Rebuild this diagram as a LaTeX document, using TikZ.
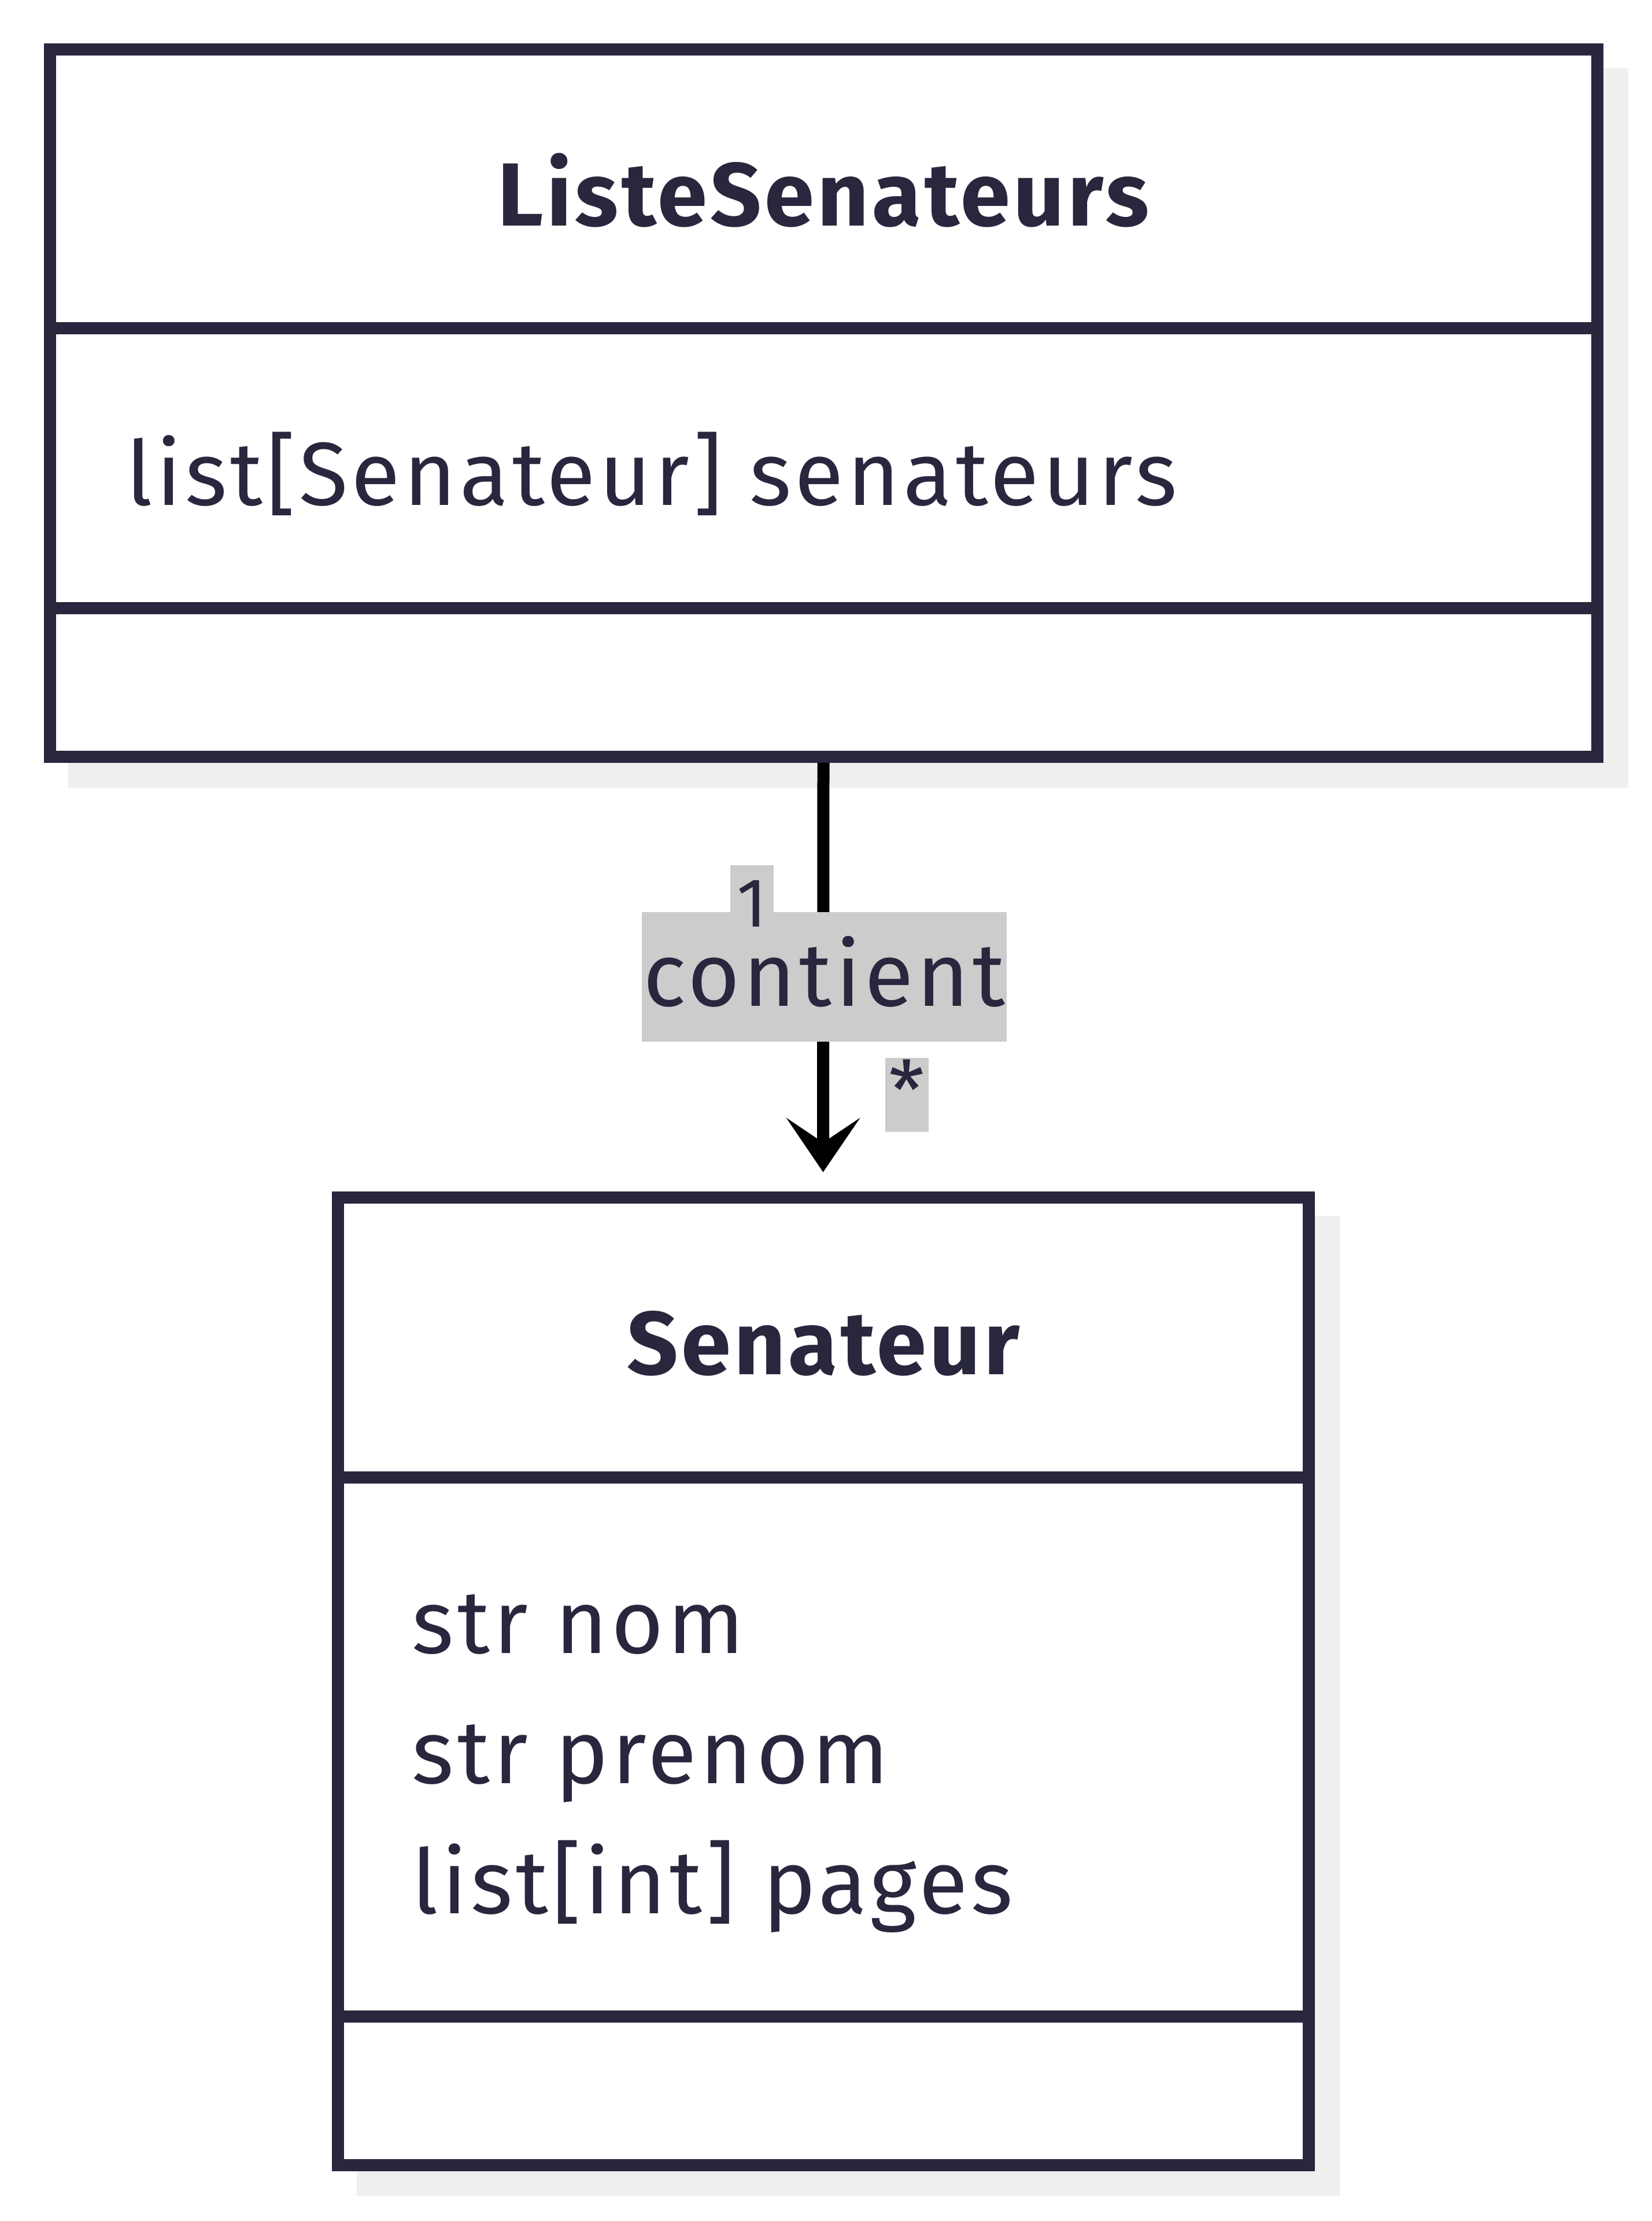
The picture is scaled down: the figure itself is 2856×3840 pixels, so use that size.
\documentclass[tikz,border=0pt]{standalone}
\usepackage{fontspec}
\setmainfont{Fira Sans}[LetterSpace=4,BoldFeatures={LetterSpace=3.5}]
\usetikzlibrary{arrows.meta}
\definecolor{ink}{RGB}{40,39,62}
\definecolor{lblgrey}{RGB}{204,204,204}
\definecolor{shadowgrey}{RGB}{239,239,239}
\begin{document}
\begin{tikzpicture}[x=0.25pt,y=-0.25pt,
  classbox/.style={draw=ink, line width=5.25pt, fill=white, inner sep=0pt, outer sep=2.625pt},
  divider/.style={draw=ink, line width=5.25pt},
  shadowbox/.style={fill=shadowgrey},
  titletext/.style={font=\bfseries\fontsize{38.75pt}{46pt}\selectfont, text=ink, inner sep=0pt, anchor=base},
  attrtext/.style={font=\fontsize{38.75pt}{46pt}\selectfont, text=ink, inner sep=0pt, anchor=base west},
  assoc/.style={draw=black, line width=5.25pt, shorten >=8.25pt,
    -{Stealth[length=23.5pt,width=32pt,inset=10.75pt,line width=0pt]}},
  biglabel/.style={fill=lblgrey, text=ink, inner sep=0pt, align=center, anchor=base,
    font=\fontsize{38.75pt}{46pt}\selectfont},
  smalllabel/.style={fill=lblgrey, text=ink, inner sep=0pt, align=center, anchor=base,
    font=\fontsize{30pt}{36pt}\selectfont}
]
\useasboundingbox (0,0) rectangle (2856,3840);
\fill[white] (0,0) rectangle (2856,3840);

% shadows
\fill[shadowbox] (118,118) rectangle (2816,1362);
\fill[shadowbox] (617,2102) rectangle (2317,3797);

% class boxes
\node[classbox, minimum width=669pt, minimum height=305.5pt] (liste) at (1424,697) {};
\node[classbox, minimum width=419.75pt, minimum height=418.25pt] (senateur) at (1423.5,2906.5) {};

% compartment dividers
\draw[divider] (liste.west |- 0,568) -- (liste.east |- 0,568);
\draw[divider] (liste.west |- 0,1051) -- (liste.east |- 0,1051);
\draw[divider] (senateur.west |- 0,2554) -- (senateur.east |- 0,2554);
\draw[divider] (senateur.west |- 0,3486) -- (senateur.east |- 0,3486);

% texts
\node[titletext] (listetitle) at (1424,391) {ListeSenateurs};
\node[attrtext] (listeattr) at (218,873) {list[Senateur] senateurs};
\node[titletext] (senateurtitle) at (1424,2376) {Senateur};
\node[attrtext] (attrnom) at (712,2858) {str nom};
\node[attrtext] (attrprenom) at (712,3083) {str prenom};
\node[attrtext] (attrpages) at (712,3308) {list[int] pages};

% association
\draw[assoc] (liste.south) -- (senateur.north);
\node[biglabel, text width=157.75pt, text height=40.5pt, text depth=15.5pt] (contient) at (1425.5,1739) {contient};
\node[smalllabel, text width=18.75pt, text height=26.5pt, text depth=4pt] (multone) at (1300.5,1602) {1};
\node[smalllabel, font=\fontsize{35pt}{40pt}\selectfont, text width=18.75pt, text height=26.5pt, text depth=5.5pt] (multmany) at (1568.5,1935) {*};
\end{tikzpicture}
\end{document}
